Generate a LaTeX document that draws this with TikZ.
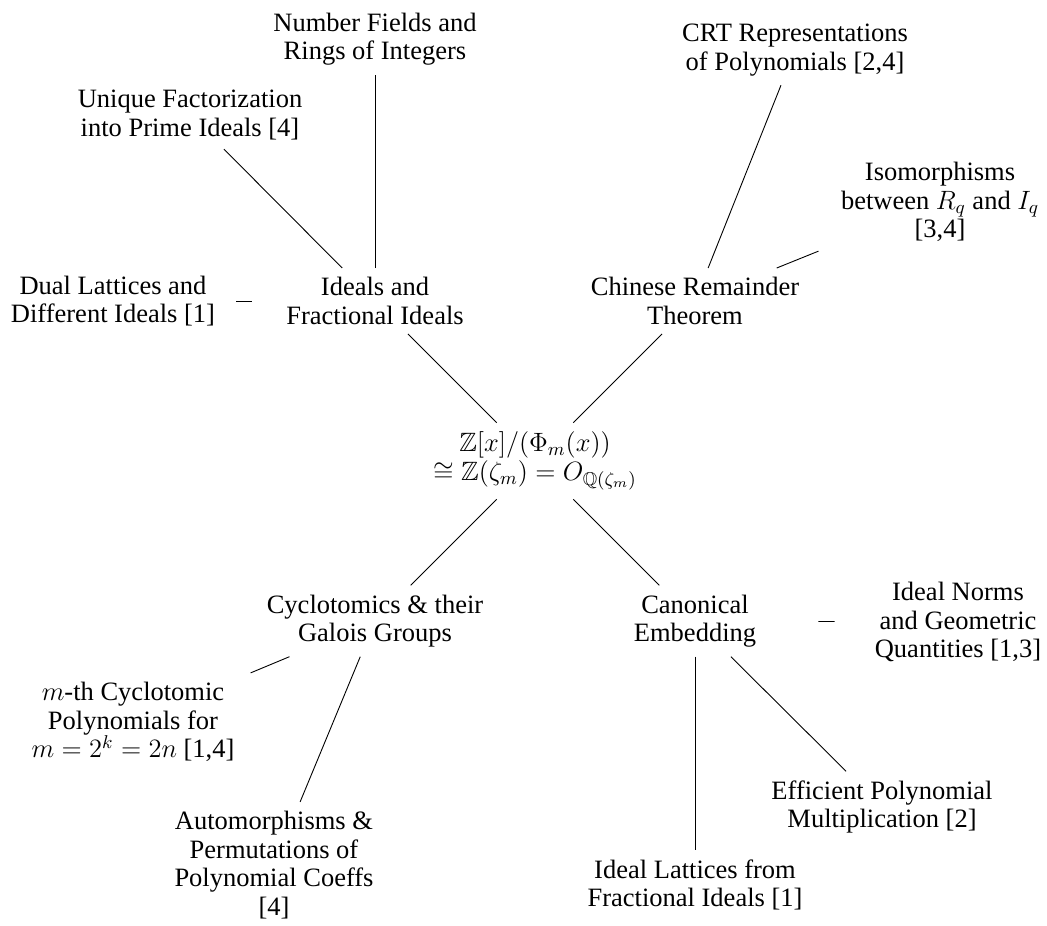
\RequirePackage{fix-cm}
\documentclass[tikz,border=0pt]{standalone}
\usepackage{amsmath}
\usepackage{amssymb}
\usepackage{fontspec}
\setmainfont{Liberation Serif}
\usepackage{tikz}
\tikzstyle{topic} = [rectangle, align=center, minimum width=123pt,
    inner sep=4.5pt, font=\fontsize{13.25}{14.25}\selectfont]
\tikzstyle{branch} = [draw, line width=0.45pt]

\begin{document}
\begin{tikzpicture}[x=0.5pt, y=-0.5pt]
    \useasboundingbox (0,0) rectangle (1047,925);
    % We start by placing the central ring
    \node [topic] (root) at (535,461) {$\mathbb{Z}[x]/(\Phi_m(x))$\\$\cong \mathbb{Z}(\zeta_m) = O_{\mathbb{Q}(\zeta_m)}$};
    % The four main topics around it
    \node [topic] (ideals) at (375,301) {Ideals and\\Fractional Ideals};
    \node [topic] (crt) at (695,301) {Chinese Remainder\\Theorem};
    \node [topic] (cyclo) at (375,621) {Cyclotomics \& their\\Galois Groups};
    \node [topic] (canon) at (695,621) {Canonical\\Embedding};
    % Sub-topics of the ideals
    \node [topic] (dual) at (113,301) {Dual Lattices and\\Different Ideals [1]};
    \node [topic] (unique) at (190,115) {Unique Factorization\\into Prime Ideals [4]};
    \node [topic] (numfield) at (375,39) {Number Fields and\\Rings of Integers};
    % Sub-topics of the CRT
    \node [topic] (crtrep) at (795,50) {CRT Representations\\of Polynomials [2,4]};
    \node [topic] (iso) at (940,202) {Isomorphisms\\between $R_q$ and $I_q$\\{[3,4]}};
    % Sub-topics of the cyclotomics
    \node [topic] (mth) at (133,722) {$m$-th Cyclotomic\\Polynomials for\\$m=2^k=2n$ [1,4]};
    \node [topic] (auto) at (274,865) {Automorphisms \&\\Permutations of\\Polynomial Coeffs\\{[4]}};
    % Sub-topics of the embedding
    \node [topic] (lattices) at (695,885) {Ideal Lattices from\\Fractional Ideals [1]};
    \node [topic] (efficient) at (882,807) {Efficient Polynomial\\Multiplication [2]};
    \node [topic] (norms) at (958,622) {Ideal Norms\\and Geometric\\Quantities [1,3]};
    % We draw the branches from the centre outwards
    \draw [branch] (root) -- (ideals);
    \draw [branch] (root) -- (crt);
    \draw [branch] (root) -- (cyclo);
    \draw [branch] (root) -- (canon);
    \draw [branch] (ideals) -- (dual);
    \draw [branch] (ideals) -- (unique);
    \draw [branch] (ideals) -- (numfield);
    \draw [branch] (crt) -- (crtrep);
    \draw [branch] (crt) -- (iso);
    \draw [branch] (cyclo) -- (mth);
    \draw [branch] (cyclo) -- (auto);
    \draw [branch] (canon) -- (lattices);
    \draw [branch] (canon) -- (efficient);
    \draw [branch] (canon) -- (norms);
\end{tikzpicture}
\end{document}
